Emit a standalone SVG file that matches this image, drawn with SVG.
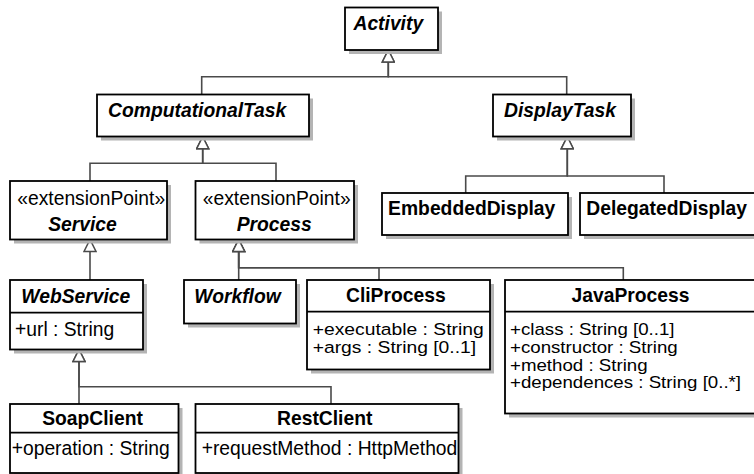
<svg xmlns="http://www.w3.org/2000/svg" width="754" height="474" viewBox="0 0 754 474">
<style>
  .box { fill: #ffffff; stroke: #000000; stroke-width: 1.8; }
  .shadow { fill: #b4b4b4; stroke: none; }
  .div { stroke: #000000; stroke-width: 1.8; }
  .t { font-family: "Liberation Sans", Arial, sans-serif; font-size: 19.3px; fill: #000000; }
  .sm { font-size: 18.7px; }
  .title { font-weight: bold; text-anchor: middle; }
  .abs { font-style: italic; }
  .st { text-anchor: middle; }
  .conn { fill: none; stroke: #4a4a4a; stroke-width: 1.6; marker-end: url(#gen); }
</style>
<defs>
  <marker id="gen" viewBox="0 0 14 14" refX="13" refY="7" markerWidth="14" markerHeight="14" orient="auto" markerUnits="userSpaceOnUse">
    <path d="M1,1 L13,7 L1,13 Z" fill="#ffffff" stroke="#4a4a4a" stroke-width="1.5"/>
  </marker>
</defs>
<rect width="754" height="474" fill="#ffffff"/>

<g id="connectors">
  <path class="conn" d="M201.7,94.3 V76.7 H388.3 V50"/>
  <path class="conn" d="M566.7,94.3 V76.7 H388.3 V50"/>
  <path class="conn" d="M90,181 V163.3 H202.7 V136.7"/>
  <path class="conn" d="M276,181 V163.3 H202.7 V136.7"/>
  <path class="conn" d="M465.7,193 V176 H567.3 V136.7"/>
  <path class="conn" d="M664,193 V176 H567.3 V136.7"/>
  <path class="conn" d="M90,280 V239.5"/>
  <path class="conn" d="M238.7,280 V239.5"/>
  <path class="conn" d="M379,280 V267.7 H238.7 V239.5"/>
  <path class="conn" d="M623.3,280 V267.7 H238.7 V239.5"/>
  <path class="conn" d="M79,404 V386.7 H79 V349.5"/>
  <path class="conn" d="M331,404 V386.7 H79 V349.5"/>
</g>

<g id="Activity">
  <rect class="shadow" x="349" y="11.5" width="93" height="42.5"/>
  <rect class="box" x="345" y="7.5" width="93" height="42.5"/>
  <text class="t title abs" x="388.3" y="30">Activity</text>
</g>

<g id="ComputationalTask">
  <rect class="shadow" x="101" y="98.5" width="212" height="42"/>
  <rect class="box" x="97" y="94.5" width="212" height="42"/>
  <text class="t title abs" x="197.2" y="117.3">ComputationalTask</text>
</g>

<g id="DisplayTask">
  <rect class="shadow" x="497" y="98.5" width="138" height="42"/>
  <rect class="box" x="493" y="94.5" width="138" height="42"/>
  <text class="t title abs" x="560" y="117.3">DisplayTask</text>
</g>

<g id="Service">
  <rect class="shadow" x="14" y="185" width="157" height="58.5"/>
  <rect class="box" x="10" y="181" width="157" height="58.5"/>
  <text class="t st" x="91.2" y="205">«extensionPoint»</text>
  <text class="t title abs" x="82.5" y="231">Service</text>
</g>

<g id="Process">
  <rect class="shadow" x="199.5" y="185" width="158.5" height="58.5"/>
  <rect class="box" x="195.5" y="181" width="158.5" height="58.5"/>
  <text class="t st" x="276.7" y="205">«extensionPoint»</text>
  <text class="t title abs" x="274.2" y="231">Process</text>
</g>

<g id="EmbeddedDisplay">
  <rect class="shadow" x="386" y="197" width="186" height="42"/>
  <rect class="box" x="382" y="193" width="186" height="42"/>
  <text class="t title" x="471.7" y="215">EmbeddedDisplay</text>
</g>

<g id="DelegatedDisplay">
  <rect class="shadow" x="584" y="197" width="190" height="42"/>
  <rect class="box" x="580" y="193" width="190" height="42"/>
  <text class="t title" x="666.7" y="215">DelegatedDisplay</text>
</g>

<g id="WebService">
  <rect class="shadow" x="14" y="284" width="133" height="69.5"/>
  <rect class="box" x="10" y="280" width="133" height="69.5"/>
  <line class="div" x1="10" y1="312.7" x2="143" y2="312.7"/>
  <text class="t title abs" x="75.8" y="302.7">WebService</text>
  <text class="t" x="15" y="335.7">+url : String</text>
</g>

<g id="Workflow">
  <rect class="shadow" x="188" y="284" width="112" height="43.5"/>
  <rect class="box" x="184" y="280" width="112" height="43.5"/>
  <text class="t title abs" x="237.5" y="302.7">Workflow</text>
</g>

<g id="CliProcess">
  <rect class="shadow" x="311" y="284" width="183" height="89.5"/>
  <rect class="box" x="307" y="280" width="183" height="89.5"/>
  <line class="div" x1="307" y1="311.7" x2="490" y2="311.7"/>
  <text class="t title" x="395.8" y="301.7">CliProcess</text>
  <text class="t" transform="translate(312.7,335) scale(1,0.83)">+executable : String</text>
  <text class="t" transform="translate(312.7,353.3) scale(1,0.83)">+args : String [0..1]</text>
</g>

<g id="JavaProcess">
  <rect class="shadow" x="509" y="284" width="260" height="133.5"/>
  <rect class="box" x="505" y="280" width="260" height="133.5"/>
  <line class="div" x1="505" y1="311.7" x2="765" y2="311.7"/>
  <text class="t title" x="630.5" y="301.7">JavaProcess</text>
  <text class="t sm" transform="translate(510,335) scale(1,0.84)">+class : String [0..1]</text>
  <text class="t sm" transform="translate(510,352.8) scale(1,0.84)">+constructor : String</text>
  <text class="t sm" transform="translate(510,370.6) scale(1,0.84)">+method : String</text>
  <text class="t sm" transform="translate(510,388.4) scale(1,0.84)">+dependences : String [0..*]</text>
</g>

<g id="SoapClient">
  <rect class="shadow" x="14" y="408" width="168.5" height="69"/>
  <rect class="box" x="10" y="404" width="168.5" height="69"/>
  <line class="div" x1="10" y1="432.7" x2="178.5" y2="432.7"/>
  <text class="t title" x="92.5" y="425">SoapClient</text>
  <text class="t" x="11.7" y="455">+operation : String</text>
</g>

<g id="RestClient">
  <rect class="shadow" x="199.5" y="408" width="263" height="69"/>
  <rect class="box" x="195.5" y="404" width="263" height="69"/>
  <line class="div" x1="195.5" y1="432.7" x2="458.5" y2="432.7"/>
  <text class="t title" x="324.7" y="425">RestClient</text>
  <text class="t" x="201.7" y="455">+requestMethod : HttpMethod</text>
</g>
</svg>
